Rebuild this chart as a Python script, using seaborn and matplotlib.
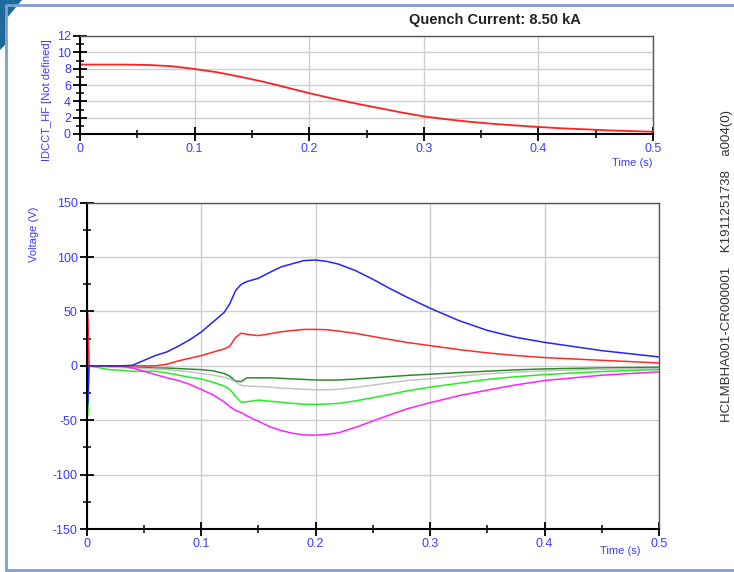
import numpy as np
import pandas as pd
import seaborn as sns
import matplotlib.pyplot as plt
from matplotlib.lines import Line2D
from matplotlib.patches import Polygon
from matplotlib.ticker import MultipleLocator

# ---- data ----
title = "Quench Current: 8.50 kA"
side_text = "HCLMBHA001-CR000001    K1911251738    a004(0)"
x_tick_labels = ["0", "0.1", "0.2", "0.3", "0.4", "0.5"]
x_ticks = [0, 0.1, 0.2, 0.3, 0.4, 0.5]
top_y_ticks = [0, 2, 4, 6, 8, 10, 12]
bottom_y_ticks = [-150, -100, -50, 0, 50, 100, 150]

# current (IDCCT_HF)
t_cur = [0, 0.02, 0.04, 0.06, 0.08, 0.10, 0.12, 0.14, 0.16, 0.18, 0.20, 0.22, 0.24,
         0.26, 0.28, 0.30, 0.32, 0.34, 0.36, 0.38, 0.40, 0.42, 0.44, 0.46, 0.48, 0.50]
i_cur = [8.5, 8.5, 8.5, 8.45, 8.3, 7.96, 7.55, 7.0, 6.4, 5.7, 5.0, 4.35, 3.75,
         3.2, 2.65, 2.15, 1.8, 1.5, 1.25, 1.05, 0.86, 0.7, 0.58, 0.45, 0.36, 0.28]

# voltages
t_v = [0, 0.001, 0.002, 0.02, 0.03, 0.04, 0.05, 0.06, 0.07, 0.08, 0.09, 0.10,
       0.11, 0.12, 0.125, 0.13, 0.135, 0.14, 0.15, 0.16, 0.17, 0.18, 0.19, 0.20,
       0.21, 0.22, 0.235, 0.25, 0.265, 0.28, 0.30, 0.325, 0.35, 0.375, 0.40, 0.45, 0.50]
v_blue = [0, -35, 0, 0, 0, 0.5, 5, 9.5, 12.8, 18, 24, 31,
          40, 49, 57, 69, 75, 77.5, 80.5, 86, 91, 94, 96.8, 97.3,
          96, 93.5, 87.5, 79.6, 71, 63, 53, 41.7, 32.6, 26.2, 21.6, 14, 8.2]
v_red = [0, 48, 0, 0, 0, 0, 0, 0, 1.5, 4.5, 7, 9.4,
         12.5, 15.5, 18, 26, 30, 29, 27.8, 29.5, 31.3, 32.5, 33.5, 33.5,
         33.2, 32, 29.8, 27, 24.2, 21.5, 18.6, 15, 11.9, 9.5, 7.6, 5.1, 2.7]
v_dkgreen = [0, 0, 0, -0.5, -1, -1.5, -1.5, -2, -2, -2.5, -3, -3.5,
             -4.5, -7, -9.5, -14, -14.5, -11, -11, -11, -11.5, -12, -12.5, -13,
             -13.1, -13, -12.1, -11, -9.9, -8.8, -7.7, -6.2, -4.9, -3.7, -2.8, -1.9, -1.3]
v_gray = [0, -5, 0, -1, -1.5, -2, -2.5, -3, -3.5, -4.5, -5.5, -7,
          -8.5, -10.5, -12, -15, -18, -18.5, -19, -19.5, -20.5, -21, -21.5, -22,
          -22, -21.5, -19.8, -17.7, -15.6, -13.5, -11.9, -9.5, -7.3, -5.8, -4.6, -3.1, -2.5]
v_green = [0, -45, 0, -3.5, -4, -5, -5, -5, -6.5, -8.5, -10.5, -12,
           -15, -18.5, -21.5, -28, -33.5, -33, -31.5, -32.5, -33.5, -34.5, -35.3, -35.4,
           -35.1, -34.5, -32.2, -29.3, -26.2, -23, -19.6, -16, -12.5, -10, -8, -5.2, -3.4]
v_magenta = [0, 30, 0, 0, -0.5, -2, -5, -8, -11, -13.5, -17, -21.7,
             -26.5, -33, -37.5, -41, -43, -46, -51, -56, -59.5, -62, -63.5, -63.8,
             -63, -61.5, -56.5, -50.7, -45, -39.5, -33.9, -27.5, -22.3, -17.5, -13.5, -8.6, -5.5]

series = {"dkgreen": v_dkgreen, "gray": v_gray, "green": v_green,
          "magenta": v_magenta, "red": v_red, "blue": v_blue}
palette = {"dkgreen": "#2f8a2f", "gray": "#c4c4c4", "green": "#22ee22",
           "magenta": "#ff22ff", "red": "#ff2a2a", "blue": "#2323ff"}

df_cur = pd.DataFrame({"t": t_cur, "I": i_cur})
df_v = pd.concat([pd.DataFrame({"t": t_v, "V": v, "sig": k}) for k, v in series.items()],
                 ignore_index=True)

sns.set_style("white")
plt.rcParams["font.family"] = ["Liberation Sans", "DejaVu Sans"]

W, H = 734, 572
fig = plt.figure(figsize=(W / 100, H / 100), dpi=100)

tick_blue = "#3b3bff"


def style_axes(ax, ymaj, ymin):
    ax.xaxis.set_major_locator(MultipleLocator(0.1))
    ax.xaxis.set_minor_locator(MultipleLocator(0.05))
    ax.yaxis.set_major_locator(MultipleLocator(ymaj))
    ax.yaxis.set_minor_locator(MultipleLocator(ymin))
    ax.tick_params(which="both", left=True, bottom=True, top=False, right=False)
    ax.tick_params(which="major", direction="inout", length=10, width=1.3,
                   color="black", labelcolor=tick_blue, labelsize=9, pad=1.5)
    ax.tick_params(which="minor", direction="inout", length=6, width=1.1, color="black")
    ax.grid(True, which="major", color="#cfcfcf", lw=1)
    ax.set_axisbelow(True)
    for s in ("left", "bottom"):
        ax.spines[s].set_color("black")
        ax.spines[s].set_linewidth(1.5)
    for s in ("top", "right"):
        ax.spines[s].set_color("#555555")
        ax.spines[s].set_linewidth(1)
    ax.set_xlabel("")
    ax.set_ylabel("")


# top panel: current
ax1 = fig.add_axes([80 / W, 1 - 134 / H, (653 - 80) / W, (134 - 36) / H])
sns.lineplot(data=df_cur, x="t", y="I", color="#ff2020", lw=1.3, ax=ax1)
ax1.set_xlim(0, 0.5)
ax1.set_ylim(0, 12)
style_axes(ax1, 2, 1)
ax1.set_xticks(x_ticks)
ax1.set_xticklabels(x_tick_labels)
ax1.set_yticks(top_y_ticks)
ax1.set_yticklabels([str(v) for v in top_y_ticks])

# bottom panel: voltages
ax2 = fig.add_axes([86.7 / W, 1 - 529 / H, (659 - 86.7) / W, (529 - 202.7) / H])
sns.lineplot(data=df_v, x="t", y="V", hue="sig", palette=palette, lw=1.1,
             estimator=None, legend=False, ax=ax2)
ax2.set_xlim(0, 0.5)
ax2.set_ylim(-150, 150)
style_axes(ax2, 50, 25)
ax2.set_xticks(x_ticks)
ax2.set_xticklabels(x_tick_labels)
ax2.set_yticks(bottom_y_ticks)
ax2.set_yticklabels([str(v) for v in bottom_y_ticks])

# texts
fig.text(495 / W, 1 - 20 / H, title, ha="center", va="center",
         fontsize=10.5, fontweight="bold", color="#222222")
fig.text(47 / W, 1 - 100 / H, "IDCCT_HF [Not defined]", rotation=90,
         ha="center", va="center", fontsize=8, color=tick_blue)
fig.text(34 / W, 1 - 234 / H, "Voltage (V)", rotation=90,
         ha="center", va="center", fontsize=8, color=tick_blue)
fig.text(652 / W, 1 - 163 / H, "Time (s)", ha="right", va="center",
         fontsize=8, color=tick_blue)
fig.text(641 / W, 1 - 551 / H, "Time (s)", ha="right", va="center",
         fontsize=8, color=tick_blue)
fig.text(727 / W, 1 - 266 / H, side_text, rotation=90, ha="center", va="center",
         fontsize=9.5, color="#333333")

# window frame
frame = "#7f9fcf"
fig.add_artist(Line2D([6 / W, 6 / W], [0.004, 1 - 6 / H], transform=fig.transFigure,
                      color=frame, lw=2))
fig.add_artist(Line2D([6 / W, 1], [1 - 5 / H, 1 - 5 / H], transform=fig.transFigure,
                      color=frame, lw=2))
fig.add_artist(Line2D([6 / W, 1], [2.5 / H, 2.5 / H], transform=fig.transFigure,
                      color=frame, lw=2))
corner = [(0, 1), (22 / W, 1), (7 / W, 1 - 18 / H), (5 / W, 1 - 45 / H), (0, 1 - 50 / H)]
fig.add_artist(Polygon(corner, closed=True, transform=fig.transFigure,
                       color="#1f6a9a", lw=0))

fig.savefig("out.png", dpi=100)
